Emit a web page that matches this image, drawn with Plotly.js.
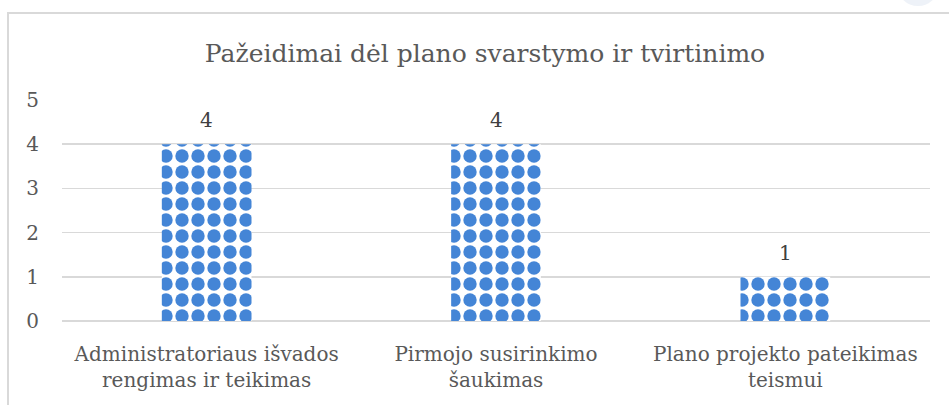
<!DOCTYPE html>
<html>
<head>
<meta charset="utf-8">
<script src="https://cdn.plot.ly/plotly-3.0.1.min.js"></script>
<style>
  html, body { margin: 0; padding: 0; background: #ffffff; }
  #frame { position: absolute; left: 7px; top: 12px; width: 960px; height: 420px;
           border-left: 2px solid #d9d9d9; border-top: 2px solid #d9d9d9; }
  #blob { position: absolute; left: 897px; top: -36px; width: 42px; height: 42px;
          border-radius: 50%; background: #eef2f8; }
  #chart { position: absolute; left: 0; top: 0; width: 949px; height: 405px; }
</style>
</head>
<body>
<div id="frame"></div>
<div id="blob"></div>
<div id="chart"></div>
<script>
const categories = [
  "Administratoriaus išvados<br>rengimas ir teikimas",
  "Pirmojo susirinkimo<br>šaukimas",
  "Plano projekto pateikimas<br>teismui"
];
const values = [4, 4, 1];
const yTicks = [0, 1, 2, 3, 4, 5];
const chartTitle = "Pažeidimai dėl plano svarstymo ir tvirtinimo";

const FONT = "DejaVu Serif, Liberation Serif, serif";
const TXT = "#595959";
const BLUE = "#4485d6";

const trace = {
  type: "bar",
  x: categories,
  y: values,
  width: 0.31,
  marker: {
    color: "#ffffff",
    line: { width: 0 },
    pattern: { shape: ".", fgcolor: BLUE, bgcolor: "#ffffff", size: 16, solidity: 0.55, fillmode: "replace" }
  },
  hoverinfo: "x+y"
};

const annotations = categories.map((c, i) => ({
  x: c, y: values[i], xref: "x", yref: "y",
  text: String(values[i]), showarrow: false,
  yanchor: "bottom", yshift: 10,
  font: { family: FONT, size: 20, color: "#404040" }
}));

const layout = {
  width: 949, height: 405,
  paper_bgcolor: "rgba(0,0,0,0)",
  plot_bgcolor: "rgba(0,0,0,0)",
  margin: { l: 62, r: 19, t: 100, b: 84 },
  showlegend: false,
  title: {
    text: chartTitle,
    font: { family: FONT, size: 25, color: TXT },
    x: 485 / 949, xanchor: "center", xref: "container",
    y: 1 - 53 / 405, yanchor: "middle", yref: "container"
  },
  xaxis: {
    type: "category",
    showgrid: false, showline: false, zeroline: false,
    ticks: "outside", ticklen: 15, tickcolor: "rgba(0,0,0,0)",
    tickfont: { family: FONT, size: 20, color: TXT }
  },
  yaxis: {
    range: [0, 5],
    tickvals: yTicks,
    ticktext: yTicks.map(String),
    showgrid: true, gridcolor: "#d9d9d9", gridwidth: 1.5,
    zeroline: true, zerolinecolor: "#d9d9d9", zerolinewidth: 1.5,
    showline: false,
    ticks: "outside", ticklen: 18, tickcolor: "rgba(0,0,0,0)",
    tickfont: { family: FONT, size: 20, color: TXT }
  },
  annotations: annotations
};

Plotly.newPlot("chart", [trace], layout, { displayModeBar: false, staticPlot: true });
</script>
</body>
</html>
